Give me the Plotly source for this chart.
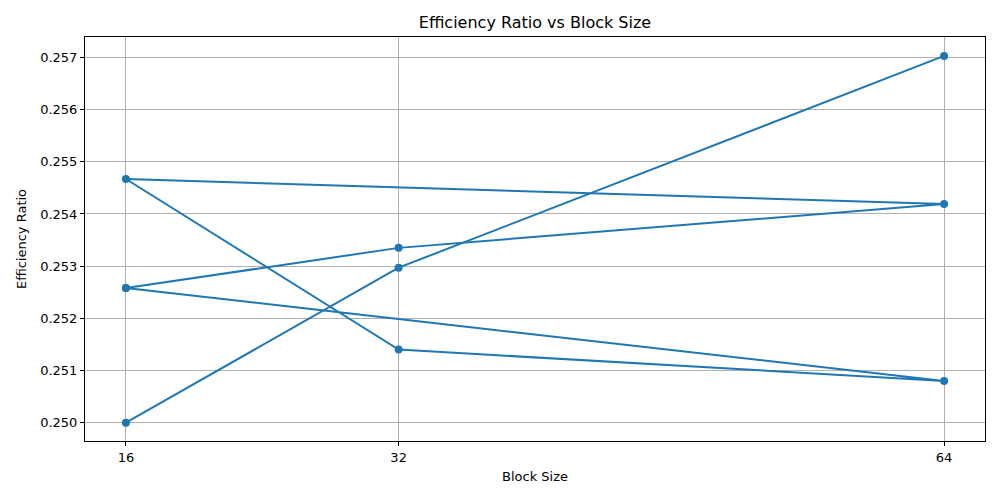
import plotly.graph_objects as go

# two runs of measurements (block size vs efficiency ratio)
block_size_a = [16, 32, 64, 16, 32, 64, 16]
efficiency_a = [0.25258, 0.25335, 0.25419, 0.25467, 0.25140, 0.25080, 0.25258]
block_size_b = [16, 32, 64]
efficiency_b = [0.25000, 0.25297, 0.25703]

x_ticks = [16, 32, 64]
y_ticks = [0.250, 0.251, 0.252, 0.253, 0.254, 0.255, 0.256, 0.257]

blue = "#1f77b4"

fig = go.Figure()
for xs, ys in [(block_size_a, efficiency_a), (block_size_b, efficiency_b)]:
    fig.add_trace(go.Scatter(x=xs, y=ys, mode="lines+markers",
                             line=dict(color=blue, width=2),
                             marker=dict(color=blue, size=8),
                             showlegend=False))

axis_style = dict(showline=True, mirror=True, linecolor="black", linewidth=1,
                  ticks="outside", ticklen=4, tickcolor="black",
                  showgrid=True, gridcolor="#b0b0b0", gridwidth=1,
                  zeroline=False, tickfont=dict(size=13, color="black"))

# page body has an 8px margin, so the figure is a bit smaller than the window
fig.update_layout(
    width=992, height=492,
    margin=dict(l=77, r=15, t=29, b=59),
    paper_bgcolor="white", plot_bgcolor="white",
    font=dict(family="DejaVu Sans", color="black"),
    title=dict(text="Efficiency Ratio vs Block Size", x=0.5, xref="paper",
               xanchor="center", y=0.97, yanchor="middle", font=dict(size=16)),
)
fig.update_xaxes(axis_style, range=[13.6, 66.4], tickvals=x_ticks,
                 title=dict(text="Block Size", font=dict(size=13), standoff=8))
fig.update_yaxes(axis_style, range=[0.249648, 0.257392], tickvals=y_ticks,
                 tickformat=".3f",
                 title=dict(text="Efficiency Ratio", font=dict(size=13), standoff=10))

fig.write_html("out.html")
